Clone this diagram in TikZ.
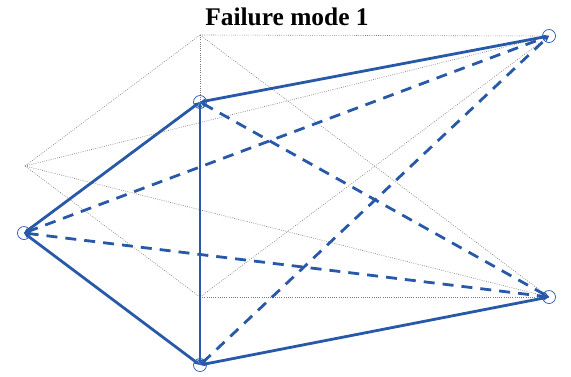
\documentclass[tikz,border=0pt]{standalone}
\usepackage{fontspec}
\setmainfont{Liberation Serif}
\usetikzlibrary{arrows.meta}
\definecolor{memblue}{RGB}{40,88,168}
\definecolor{undef}{RGB}{120,120,120}
\begin{document}
\begin{tikzpicture}[x=1bp,y=-1bp,
  orig/.style={draw=undef,line width=0.6bp,dash pattern=on 0.8bp off 1.4bp},
  member/.style={draw=memblue,line width=2.8bp,{Stealth[length=6bp,width=5bp]}-{Stealth[length=6bp,width=5bp]}},
  memdash/.style={member,dash pattern=on 11bp off 8bp},
  joint/.style={circle,draw=memblue,line width=0.7bp,minimum size=13bp,inner sep=0pt}]
\useasboundingbox (0,0) rectangle (571,376);
\node[font=\bfseries\fontsize{25.5}{28}\selectfont] (title) at (287,17) {Failure mode 1};
% undeformed geometry
\coordinate (u1) at (200,35);
\coordinate (u2) at (25,166);
\coordinate (u3) at (200,297);
\coordinate (u4) at (549,36);
\coordinate (u5) at (549,297);
\draw[orig] (u1) -- (u4);
\draw[orig] (u1) -- (u2);
\draw[orig] (u1) -- (u3);
\draw[orig] (u1) -- (u5);
\draw[orig] (u2) -- (u3);
\draw[orig] (u2) -- (u4);
\draw[orig] (u2) -- (u5);
\draw[orig] (u3) -- (u4);
\draw[orig] (u3) -- (u5);
% deformed geometry
\node[joint] (d1) at (200,102) {};
\node[joint] (d2) at (24,233) {};
\node[joint] (d3) at (200,365) {};
\node[joint] (d4) at (549,36) {};
\node[joint] (d5) at (549,297) {};
\draw[member] (d1.center) -- (d4.center);
\draw[member] (d1.center) -- (d2.center);
\draw[member] (d1.center) -- (d3.center);
\draw[member] (d2.center) -- (d3.center);
\draw[member] (d3.center) -- (d5.center);
\draw[memdash] (d1.center) -- (d5.center);
\draw[memdash] (d2.center) -- (d4.center);
\draw[memdash] (d2.center) -- (d5.center);
\draw[memdash] (d3.center) -- (d4.center);
\end{tikzpicture}
\end{document}
